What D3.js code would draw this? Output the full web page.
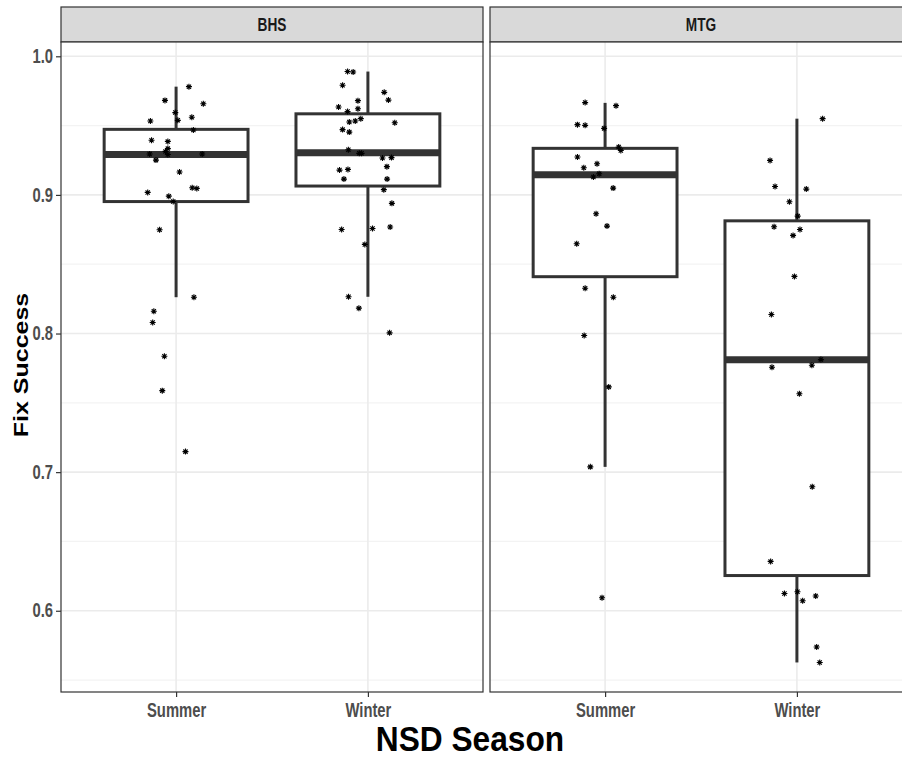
<!DOCTYPE html>
<html>
<head>
<meta charset="utf-8">
<script src="https://cdn.jsdelivr.net/npm/d3@7"></script>
<style>
  html, body { margin: 0; padding: 0; background: #fff; }
  svg { display: block; }
</style>
</head>
<body>
<div id="chart"></div>
<script>
// Facets and categories
const sites = ["BHS", "MTG"];
const seasons = ["Summer", "Winter"];
const yTicks = [0.6, 0.7, 0.8, 0.9, 1.0];
const yMinorTicks = [0.55, 0.65, 0.75, 0.85, 0.95];

// Box statistics, one entry per site/season group (BHS-Summer, BHS-Winter, MTG-Summer, MTG-Winter)
const boxGroups = [["BHS", "Summer"], ["BHS", "Winter"], ["MTG", "Summer"], ["MTG", "Winter"]];
const boxLower  = [0.8262, 0.8265, 0.7038, 0.5627];
const boxQ1     = [0.8952, 0.9064, 0.8410, 0.6254];
const boxMedian = [0.9292, 0.9305, 0.9145, 0.7811];
const boxQ3     = [0.9473, 0.9585, 0.9336, 0.8813];
const boxUpper  = [0.9781, 0.9890, 0.9664, 0.9550];

// Observed fix success per group, with the jitter offset (in category units) used for each point
const bhsSummerValues = [0.9781, 0.9682, 0.9658, 0.9594, 0.9560, 0.9538, 0.9533, 0.9468, 0.9394, 0.9386,
  0.9334, 0.9314, 0.9295, 0.9292, 0.9295, 0.9251, 0.9165, 0.9052, 0.9047, 0.9018,
  0.8991, 0.8953, 0.8749, 0.8262, 0.8161, 0.8079, 0.7836, 0.7588, 0.7148];
const bhsSummerJitter = [0.067, -0.058, 0.142, -0.004, 0.082, 0.009, -0.134, 0.090, -0.128, -0.043,
  -0.043, -0.055, -0.138, -0.043, 0.136, -0.105, 0.018, 0.084, 0.108, -0.148,
  -0.038, -0.015, -0.086, 0.093, -0.116, -0.122, -0.061, -0.072, 0.049];

const bhsWinterValues = [0.9890, 0.9887, 0.9791, 0.9740, 0.9684, 0.9680, 0.9634, 0.9622, 0.9601, 0.9550,
  0.9533, 0.9526, 0.9521, 0.9471, 0.9453, 0.9326, 0.9300, 0.9300, 0.9266, 0.9269,
  0.9204, 0.9179, 0.9184, 0.9114, 0.9114, 0.9038, 0.8939, 0.8751, 0.8758, 0.8768,
  0.8643, 0.8265, 0.8183, 0.8005];
const bhsWinterJitter = [-0.106, -0.077, -0.132, 0.085, 0.107, -0.052, -0.153, -0.052, -0.106, -0.037,
  -0.066, -0.097, 0.140, -0.132, -0.097, -0.102, -0.045, -0.033, 0.076, 0.123,
  0.099, -0.148, -0.104, -0.125, 0.100, 0.083, 0.125, -0.137, 0.024, 0.116,
  -0.016, -0.101, -0.047, 0.113];

const mtgSummerValues = [0.9666, 0.9644, 0.9507, 0.9502, 0.9480, 0.9345, 0.9321, 0.9273, 0.9225, 0.9196,
  0.9129, 0.9153, 0.9049, 0.8864, 0.8775, 0.8648, 0.8327, 0.8262, 0.7986, 0.7615,
  0.7038, 0.6094];
const mtgSummerJitter = [-0.104, 0.057, -0.144, -0.104, -0.005, 0.071, 0.082, -0.144, -0.042, -0.111,
  -0.061, -0.031, 0.042, -0.047, 0.010, -0.148, -0.104, 0.043, -0.109, 0.019,
  -0.077, -0.016];

const mtgWinterValues = [0.9550, 0.9249, 0.9061, 0.9042, 0.8951, 0.8847, 0.8770, 0.8751, 0.8708, 0.8412,
  0.8137, 0.7812, 0.7757, 0.7771, 0.7565, 0.6895, 0.6356, 0.6125, 0.6137, 0.6072,
  0.6106, 0.5738, 0.5627];
const mtgWinterJitter = [0.134, -0.140, -0.114, 0.049, -0.039, 0.004, -0.119, 0.016, -0.020, -0.013,
  -0.133, 0.125, -0.130, 0.078, 0.013, 0.080, -0.137, -0.065, 0.003, 0.030,
  0.098, 0.103, 0.119];

const pointGroups = [
  { site: "BHS", season: "Summer", values: bhsSummerValues, jitter: bhsSummerJitter },
  { site: "BHS", season: "Winter", values: bhsWinterValues, jitter: bhsWinterJitter },
  { site: "MTG", season: "Summer", values: mtgSummerValues, jitter: mtgSummerJitter },
  { site: "MTG", season: "Winter", values: mtgWinterValues, jitter: mtgWinterJitter }
];

// Layout
const W = 902, H = 758;
const panelTop = 42, panelBottom = 692;
const stripTop = 7;
const panelLefts = [61, 490];
const panelWidth = 422;
const squeeze = 0.76;   // horizontal condensing of the tick and strip lettering

const svg = d3.select("#chart").append("svg")
  .attr("width", W).attr("height", H)
  .style("font-family", "'Liberation Sans', Arial, sans-serif");

// y range expanded by 5% beyond the data, as in a default continuous scale
const allVals = pointGroups.flatMap(g => g.values).concat(boxLower, boxUpper);
const [vMin, vMax] = d3.extent(allVals);
const pad = (vMax - vMin) * 0.05;
const y = d3.scaleLinear().domain([vMin - pad, vMax + pad]).range([panelBottom, panelTop]);

const asterisk = d3.symbol().type({
  draw(ctx, size) {
    const r = Math.sqrt(size) / 2;
    for (let k = 0; k < 4; k++) {
      const a = k * Math.PI / 4;
      ctx.moveTo(-r * Math.cos(a), -r * Math.sin(a));
      ctx.lineTo(r * Math.cos(a), r * Math.sin(a));
    }
  }
}).size(36);

sites.forEach((site, si) => {
  const x0 = panelLefts[si];
  const x = d3.scalePoint().domain(seasons).range([x0, x0 + panelWidth]).padding(0.6);
  const step = x.step();
  const g = svg.append("g");

  // strip
  g.append("rect")
    .attr("x", x0).attr("y", stripTop)
    .attr("width", panelWidth).attr("height", panelTop - stripTop)
    .attr("fill", "#d9d9d9").attr("stroke", "#333").attr("stroke-width", 1.2);
  g.append("text")
    .attr("transform", `translate(${x0 + panelWidth / 2},${(stripTop + panelTop) / 2 + 6.5}) scale(${squeeze},1)`)
    .attr("text-anchor", "middle")
    .attr("font-size", 18).attr("font-weight", "bold").attr("fill", "#1a1a1a")
    .text(site);

  // panel background and grid
  g.append("rect").attr("x", x0).attr("y", panelTop)
    .attr("width", panelWidth).attr("height", panelBottom - panelTop).attr("fill", "#fff");
  g.selectAll(".minor").data(yMinorTicks).join("line")
    .attr("x1", x0).attr("x2", x0 + panelWidth)
    .attr("y1", d => y(d)).attr("y2", d => y(d))
    .attr("stroke", "#f3f3f3").attr("stroke-width", 1.2);
  g.selectAll(".major").data(yTicks).join("line")
    .attr("x1", x0).attr("x2", x0 + panelWidth)
    .attr("y1", d => y(d)).attr("y2", d => y(d))
    .attr("stroke", "#ebebeb").attr("stroke-width", 1.6);
  g.selectAll(".vgrid").data(seasons).join("line")
    .attr("x1", d => x(d)).attr("x2", d => x(d))
    .attr("y1", panelTop).attr("y2", panelBottom)
    .attr("stroke", "#ebebeb").attr("stroke-width", 1.6);

  // boxes
  const boxW = step * 0.75;
  boxGroups.forEach(([s, season], i) => {
    if (s !== site) return;
    const cx = x(season);
    const bg = g.append("g").attr("stroke", "#333").attr("fill", "none");
    bg.append("line").attr("x1", cx).attr("x2", cx)
      .attr("y1", y(boxQ3[i])).attr("y2", y(boxUpper[i])).attr("stroke-width", 3);
    bg.append("line").attr("x1", cx).attr("x2", cx)
      .attr("y1", y(boxQ1[i])).attr("y2", y(boxLower[i])).attr("stroke-width", 3);
    bg.append("rect")
      .attr("x", cx - boxW / 2).attr("y", y(boxQ3[i]))
      .attr("width", boxW).attr("height", y(boxQ1[i]) - y(boxQ3[i]))
      .attr("fill", "#fff").attr("stroke-width", 3);
    bg.append("line").attr("x1", cx - boxW / 2).attr("x2", cx + boxW / 2)
      .attr("y1", y(boxMedian[i])).attr("y2", y(boxMedian[i])).attr("stroke-width", 7);
  });

  // jittered observations
  pointGroups.filter(p => p.site === site).forEach(p => {
    g.selectAll(null).data(p.values.map((v, j) => [v, p.jitter[j]])).join("path")
      .attr("d", asterisk)
      .attr("transform", d => `translate(${x(p.season) + d[1] * step},${y(d[0])})`)
      .attr("stroke", "#000").attr("stroke-width", 1.1).attr("fill", "none");
  });

  // panel border
  g.append("rect").attr("x", x0).attr("y", panelTop)
    .attr("width", panelWidth).attr("height", panelBottom - panelTop)
    .attr("fill", "none").attr("stroke", "#333").attr("stroke-width", 1.2);

  // x axis
  const xAxis = g.append("g").attr("transform", `translate(0,${panelBottom})`)
    .call(d3.axisBottom(x).tickSize(5).tickPadding(6));
  xAxis.select(".domain").remove();
  xAxis.selectAll("line").attr("stroke", "#333").attr("stroke-width", 1.2);
  xAxis.selectAll("text").attr("font-size", 19.5).attr("font-weight", "bold")
    .attr("fill", "#4d4d4d").attr("font-family", "inherit")
    .attr("transform", `scale(${squeeze},1)`);

  // y axis on the first facet only
  if (si === 0) {
    const yAxis = g.append("g").attr("transform", `translate(${x0},0)`)
      .call(d3.axisLeft(y).tickValues(yTicks).tickFormat(d3.format(".1f")).tickSize(5).tickPadding(3));
    yAxis.select(".domain").remove();
    yAxis.selectAll("line").attr("stroke", "#333").attr("stroke-width", 1.2);
    yAxis.selectAll("text").attr("font-size", 19.5).attr("font-weight", "bold")
      .attr("fill", "#4d4d4d").attr("font-family", "inherit")
      .attr("x", -8 / squeeze)
      .attr("transform", `scale(${squeeze},1)`);
  }
});

// axis titles
svg.append("text")
  .attr("transform", `translate(470,751) scale(0.88,1)`)
  .attr("text-anchor", "middle")
  .attr("font-size", 36).attr("font-weight", "bold").attr("fill", "#000")
  .text("NSD Season");
svg.append("text")
  .attr("transform", `translate(28,365) scale(0.8,1) rotate(-90)`)
  .attr("text-anchor", "middle")
  .attr("font-size", 25).attr("font-weight", "bold").attr("fill", "#000")
  .text("Fix Success");
</script>
</body>
</html>
